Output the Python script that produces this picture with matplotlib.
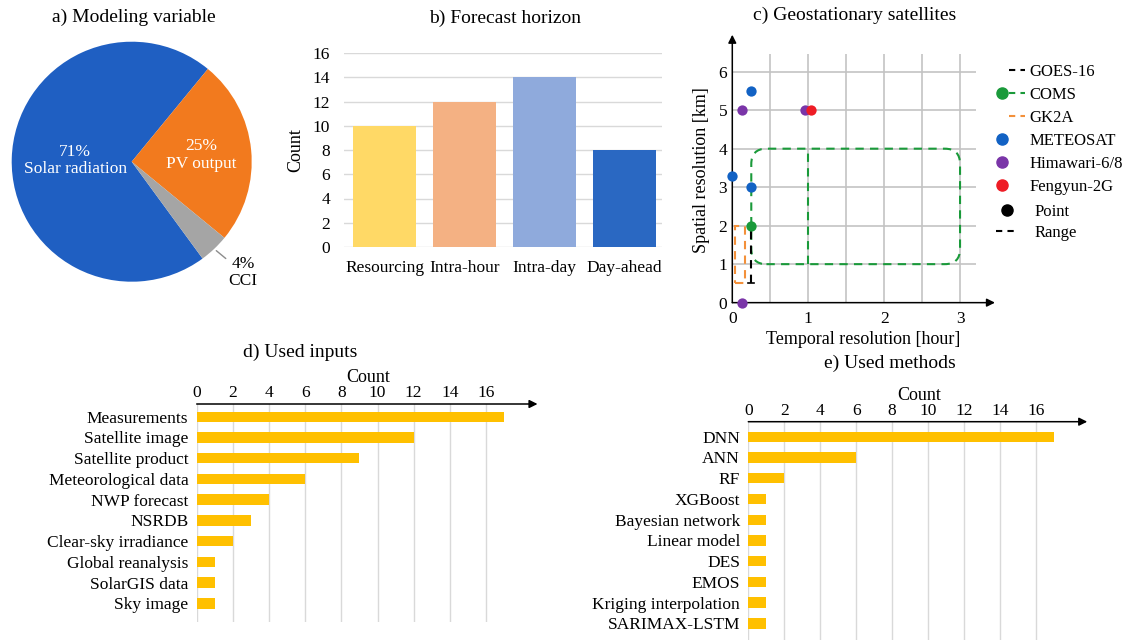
import matplotlib
matplotlib.use('Agg')
import matplotlib.pyplot as plt
import numpy as np
from matplotlib.lines import Line2D
from matplotlib.patches import FancyBboxPatch, Rectangle
from matplotlib.legend_handler import HandlerTuple

plt.rcParams['font.family'] = ['Liberation Serif', 'DejaVu Serif']
plt.rcParams['font.size'] = 12.5

### a) pie data
pie_labels = ['Solar radiation', 'PV output', 'CCI']
pie_values = [71, 25, 4]
pie_colors = ['#1F5FC2', '#F27A1E', '#A5A5A5']

### b) forecast horizon
horizon = ['Resourcing', 'Intra-hour', 'Intra-day', 'Day-ahead']
horizon_count = [10, 12, 14, 8]
horizon_colors = ['#FFD966', '#F4B183', '#8FAADC', '#2A68C2']

### c) geostationary satellites (temporal [hour], spatial [km])
meteosat_t = [0.25, 0.0, 0.25]
meteosat_s = [5.5, 3.3, 3.0]
himawari_t = [0.125, 0.96, 0.125]
himawari_s = [5.0, 5.0, 0.0]
fengyun_t = [1.04]
fengyun_s = [5.0]
coms_t = [0.25]
coms_s = [2.0]
coms_range_t = [0.25, 3.0]
coms_range_s = [1.0, 4.0]
coms_split_t = 1.0
goes_range_t = 0.25
goes_range_s = [0.5, 2.0]
gk2a_range_t = [1 / 30, 1 / 6]
gk2a_range_s = [0.5, 2.0]

### d) used inputs
inputs = ['Measurements', 'Satellite image', 'Satellite product', 'Meteorological data',
          'NWP forecast', 'NSRDB', 'Clear-sky irradiance', 'Global reanalysis',
          'SolarGIS data', 'Sky image']
inputs_count = [17, 12, 9, 6, 4, 3, 2, 1, 1, 1]

### e) used methods
methods = ['DNN', 'ANN', 'RF', 'XGBoost', 'Bayesian network', 'Linear model', 'DES',
           'EMOS', 'Kriging interpolation', 'SARIMAX-LSTM']
methods_count = [17, 6, 2, 1, 1, 1, 1, 1, 1, 1]

W, H = 1128, 640
fig = plt.figure(figsize=(W / 100, H / 100), dpi=100)


def px_axes(left, top, right, bottom):
    return fig.add_axes([left / W, 1 - bottom / H, (right - left) / W, (bottom - top) / H])


def px_text(x, y, s, **kw):
    fig.text(x / W, 1 - y / H, s, ha='center', va='center', **kw)


### a) Pie
ax = px_axes(11.7, 41.7, 251.7, 281.7)
wedges, _ = ax.pie(pie_values, colors=pie_colors, startangle=306.2, counterclock=False,
                   wedgeprops=dict(linewidth=0))
ax.set_xlim(-1, 1)
ax.set_ylim(-1, 1)
ax.set_aspect('equal')


def mid(w, r):
    a = np.deg2rad((w.theta1 + w.theta2) / 2)
    return r * np.cos(a), r * np.sin(a)


x, y = mid(wedges[0], 0.47)
ax.text(x, y, '%d%%\n%s' % (pie_values[0], pie_labels[0]), color='white',
        ha='center', va='center', fontsize=12.5, linespacing=1.1)
x, y = mid(wedges[1], 0.58)
ax.text(x, y, '%d%%\n%s' % (pie_values[1], pie_labels[1]), color='white',
        ha='center', va='center', fontsize=12.5, linespacing=1.1)
x, y = mid(wedges[2], 1.0)
ax.annotate('%d%%\n%s' % (pie_values[2], pie_labels[2]), xy=(x, y),
            xytext=(x + 0.12, y - 0.2), ha='left', va='center', multialignment='center',
            fontsize=12.5, linespacing=1.1,
            arrowprops=dict(arrowstyle='-', color='#8C8C8C', lw=1, shrinkA=0, shrinkB=2))
px_text(134, 17, 'a) Modeling variable', fontsize=14)

### b) Bars
ax = px_axes(344, 53, 662, 247)
xb = np.arange(len(horizon))
ax.bar(xb, horizon_count, width=0.79, color=horizon_colors, zorder=2)
ax.set_xlim(-0.51, 3.47)
ax.set_ylim(0, 16)
ax.set_yticks(np.arange(0, 17, 2))
ax.set_xticks(xb)
ax.set_xticklabels(horizon)
ax.yaxis.grid(True, color='#D9D9D9', lw=1, zorder=0)
for s in ax.spines.values():
    s.set_visible(False)
ax.tick_params(length=0, pad=10, labelsize=12.5)
ax.tick_params(axis='x', pad=9)
ax.set_ylabel('Count', fontsize=13, labelpad=6)
px_text(505, 18, 'b) Forecast horizon', fontsize=14)

### c) Scatter / ranges
ax = px_axes(728.5, 33.2, 998, 306.5)
ax.set_xlim(-0.05, 3.5)
ax.set_ylim(-0.1, 7.0)
for s in ax.spines.values():
    s.set_visible(False)
ax.vlines(np.arange(0.5, 3.01, 0.5), 0, 6.47, color='#C3C3C3', lw=1.2, zorder=0)
ax.hlines(np.arange(1, 7), 0, 3.21, color='#C3C3C3', lw=1.2, zorder=0)
arrow = dict(arrowstyle='-|>', color='black', lw=1.1, mutation_scale=12, shrinkA=0, shrinkB=0)
ax.annotate('', xy=(3.46, 0), xytext=(0, 0), arrowprops=arrow)
ax.annotate('', xy=(0, 6.96), xytext=(0, 0), arrowprops=arrow)
ax.set_xticks([0, 1, 2, 3])
ax.set_yticks(range(7))
ax.tick_params(length=0, labelsize=12.5)
ax.tick_params(axis='x', pad=3)
ax.tick_params(axis='y', pad=1)
ax.set_xlabel('Temporal resolution [hour]', fontsize=13, labelpad=3)
ax.set_ylabel('Spatial resolution [km]', fontsize=13, labelpad=6)

green, orange = '#1A9A3A', '#F3903A'
dash = dict(ls=(0, (4, 3)), lw=1.5)
coms_box = FancyBboxPatch((coms_range_t[0], coms_range_s[0]),
                          coms_range_t[1] - coms_range_t[0], coms_range_s[1] - coms_range_s[0],
                          boxstyle='round,pad=0,rounding_size=0.2', mutation_aspect=2,
                          fill=False, ec=green, zorder=3, **dash)
ax.add_patch(coms_box)
ax.plot([coms_split_t, coms_split_t], coms_range_s, color=green, zorder=3, **dash)
ax.add_patch(Rectangle((gk2a_range_t[0], gk2a_range_s[0]), gk2a_range_t[1] - gk2a_range_t[0],
                       gk2a_range_s[1] - gk2a_range_s[0], fill=False, ec=orange, zorder=3, **dash))
ax.plot([goes_range_t, goes_range_t], goes_range_s, color='black', zorder=3, **dash)
ax.plot([goes_range_t - 0.04, goes_range_t + 0.04], [goes_range_s[0]] * 2, color='black', lw=1.2, zorder=3)

msz = 55
ax.scatter(meteosat_t, meteosat_s, s=msz, color='#1262C4', zorder=5, clip_on=False, lw=0)
ax.scatter(himawari_t, himawari_s, s=msz, color='#7A35A8', zorder=5, clip_on=False, lw=0)
ax.scatter(fengyun_t, fengyun_s, s=msz, color='#EE1C25', zorder=6, clip_on=False, lw=0)
ax.scatter(coms_t, coms_s, s=msz, color=green, zorder=5, clip_on=False, lw=0)

blank = Line2D([], [], ls='none')


def dot(c):
    return Line2D([], [], ls='none', marker='o', color=c, markersize=8)


def dline(c):
    return Line2D([], [], color=c, ls=(0, (3, 2.5)), lw=1.5)


h1 = [(blank, dline('black')), (dot(green), dline(green)), (blank, dline(orange)),
      (dot('#1262C4'), blank), (dot('#7A35A8'), blank), (dot('#EE1C25'), blank)]
l1 = ['GOES-16', 'COMS', 'GK2A', 'METEOSAT', 'Himawari-6/8', 'Fengyun-2G']
leg1 = ax.legend(h1, l1, handler_map={tuple: HandlerTuple(ndivide=None, pad=0)},
                 loc='upper left', bbox_to_anchor=(994 / W, 1 - 64 / H),
                 bbox_transform=fig.transFigure, frameon=False, fontsize=12,
                 handlelength=1.85, handletextpad=0.3, labelspacing=0.42,
                 borderpad=0, borderaxespad=0)
ax.add_artist(leg1)
h2 = [dot('black'), dline('black')]
ax.legend(h2, ['Point', 'Range'], loc='upper left', bbox_to_anchor=(996 / W, 1 - 204 / H),
          bbox_transform=fig.transFigure, frameon=False, fontsize=12,
          handlelength=1.3, handletextpad=1.0, labelspacing=0.3, borderpad=0, borderaxespad=0)
px_text(855, 15, 'c) Geostationary satellites', fontsize=14)


### d) and e) horizontal bars
def hbars(ax, names, vals, top_pad, bot_pad):
    yy = np.arange(len(names))
    ax.barh(yy, vals, height=0.5, color='#FFC000', zorder=2)
    ax.set_ylim(len(names) - 1 + bot_pad, -top_pad)
    ax.set_xlim(0, 19)
    ax.set_yticks(yy)
    ax.set_yticklabels(names)
    ax.set_xticks(np.arange(0, 17, 2))
    ax.xaxis.tick_top()
    ax.xaxis.set_label_position('top')
    ax.set_xlabel('Count', fontsize=13, labelpad=2)
    ax.xaxis.grid(True, color='#D9D9D9', lw=1, zorder=0)
    ax.set_axisbelow(True)
    for s in ax.spines.values():
        s.set_visible(False)
    ax.tick_params(length=0, labelsize=12.5)
    ax.tick_params(axis='x', pad=2)
    ax.tick_params(axis='y', pad=6)
    ax.annotate('', xy=(18.85, 1), xytext=(0, 1), xycoords=ax.get_xaxis_transform(),
                textcoords=ax.get_xaxis_transform(),
                arrowprops=dict(arrowstyle='-|>', color='black', lw=1.1, mutation_scale=12,
                                shrinkA=0, shrinkB=0))


ax = px_axes(196.7, 404, 196.7 + 19 * 18.08, 622)
hbars(ax, inputs, inputs_count, 0.613, 0.9)
px_text(300, 352, 'd) Used inputs', fontsize=14)

ax = px_axes(748.3, 421.7, 748.3 + 19 * 17.98, 640)
hbars(ax, methods, methods_count, 0.725, 0.8)
px_text(890, 363, 'e) Used methods', fontsize=14)

fig.savefig('out.png', dpi=100)
